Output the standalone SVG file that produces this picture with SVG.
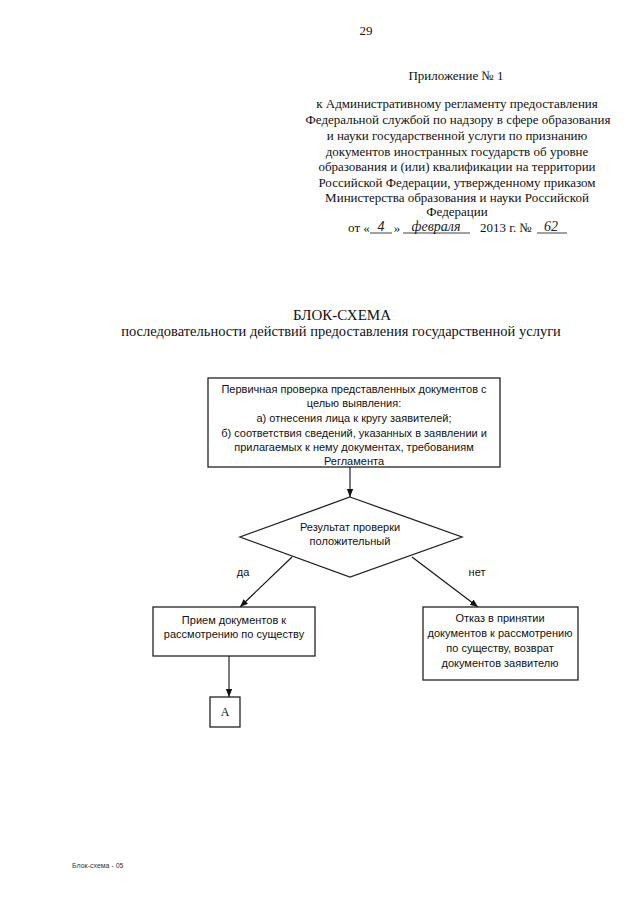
<svg xmlns="http://www.w3.org/2000/svg" width="640" height="905" viewBox="0 0 640 905">
<defs>
<marker id="ah" viewBox="0 0 10 10" refX="10" refY="5" markerWidth="8" markerHeight="8" orient="auto" markerUnits="userSpaceOnUse">
<path d="M0,1 L10,5 L0,9 z" fill="#111"/>
</marker>
<style>
.hd{font-family:"Liberation Serif","Times New Roman",serif;font-size:13px;fill:#111;text-anchor:middle}
.hw{font-family:"Liberation Serif","Times New Roman",serif;font-style:italic;font-size:14px;fill:#222;text-anchor:middle}
.tt{font-family:"Liberation Serif","Times New Roman",serif;fill:#111;text-anchor:middle}
.bx{font-family:"Liberation Sans",Arial,sans-serif;font-size:11px;fill:#111;text-anchor:middle}
.nd{fill:#fff;stroke:#222;stroke-width:1.3}
.cn{stroke:#111;stroke-width:1.1;fill:none;marker-end:url(#ah)}
.ul{stroke:#111;stroke-width:0.8}
</style>
</defs>
<rect width="640" height="905" fill="#fff"/>
<g id="header">
<text class="hd" x="366" y="35">29</text>
<text class="hd" x="456" y="80">Приложение № 1</text>
<text class="hd" x="457" y="108">к Административному регламенту предоставления</text>
<text class="hd" x="458" y="124">Федеральной службой по надзору в сфере образования</text>
<text class="hd" x="457" y="140">и науки государственной услуги по признанию</text>
<text class="hd" x="457" y="156">документов иностранных государств об уровне</text>
<text class="hd" x="457" y="171">образования и (или) квалификации на территории</text>
<text class="hd" x="457" y="187">Российской Федерации, утвержденному приказом</text>
<text class="hd" x="457" y="202">Министерства образования и науки Российской</text>
<text class="hd" x="457" y="216">Федерации</text>
<text class="hd" x="359" y="232">от «</text>
<text class="hw" x="381" y="231">4</text>
<line class="ul" x1="370" y1="233" x2="392" y2="233"/>
<text class="hd" x="397" y="232">»</text>
<text class="hw" x="436" y="231">февраля</text>
<line class="ul" x1="403" y1="233" x2="470" y2="233"/>
<text class="hd" x="506" y="232">2013 г. №</text>
<text class="hw" x="551" y="231">62</text>
<line class="ul" x1="537" y1="233" x2="567" y2="233"/>
</g>
<g id="title">
<text class="tt" x="342" y="320" font-size="15">БЛОК-СХЕМА</text>
<text class="tt" x="341" y="336" font-size="14.5">последовательности действий предоставления государственной услуги</text>
</g>
<g id="connectors">
<line class="cn" x1="350" y1="467" x2="350" y2="497"/>
<line class="cn" x1="292" y1="557" x2="240" y2="607"/>
<line class="cn" x1="412" y1="557" x2="478" y2="607"/>
<line class="cn" x1="229" y1="656" x2="229" y2="697"/>
<text class="bx" x="243" y="576">да</text>
<text class="bx" x="477" y="576">нет</text>
</g>
<g id="check">
<rect class="nd" x="208" y="378" width="292" height="89"/>
<text class="bx" x="354" y="393">Первичная проверка представленных документов с</text>
<text class="bx" x="354" y="407">целью выявления:</text>
<text class="bx" x="354" y="422">а) отнесения лица к кругу заявителей;</text>
<text class="bx" x="354" y="437">б) соответствия сведений, указанных в заявлении и</text>
<text class="bx" x="354" y="451">прилагаемых к нему документах, требованиям</text>
<text class="bx" x="354" y="465">Регламента</text>
</g>
<g id="decision">
<polygon class="nd" points="350,497 462,537 350,577 240,537"/>
<text class="bx" x="350" y="531">Результат проверки</text>
<text class="bx" x="350" y="545">положительный</text>
</g>
<g id="accept">
<rect class="nd" x="153" y="607" width="162" height="49"/>
<text class="bx" x="234" y="624">Прием документов к</text>
<text class="bx" x="234" y="638">рассмотрению по существу</text>
</g>
<g id="refuse">
<rect class="nd" x="423" y="607" width="155" height="73"/>
<text class="bx" x="500" y="622">Отказ в принятии</text>
<text class="bx" x="500" y="637">документов к рассмотрению</text>
<text class="bx" x="500" y="652">по существу, возврат</text>
<text class="bx" x="500" y="667">документов заявителю</text>
</g>
<g id="A">
<rect class="nd" x="210" y="697" width="30" height="30"/>
<text class="tt" x="225" y="716" font-size="12">A</text>
</g>
<g id="footer">
<text x="72" y="868" font-family="'Liberation Sans Narrow','Liberation Sans',Arial,sans-serif" font-size="7" fill="#333">Блок-схема - 05</text>
</g>
</svg>
